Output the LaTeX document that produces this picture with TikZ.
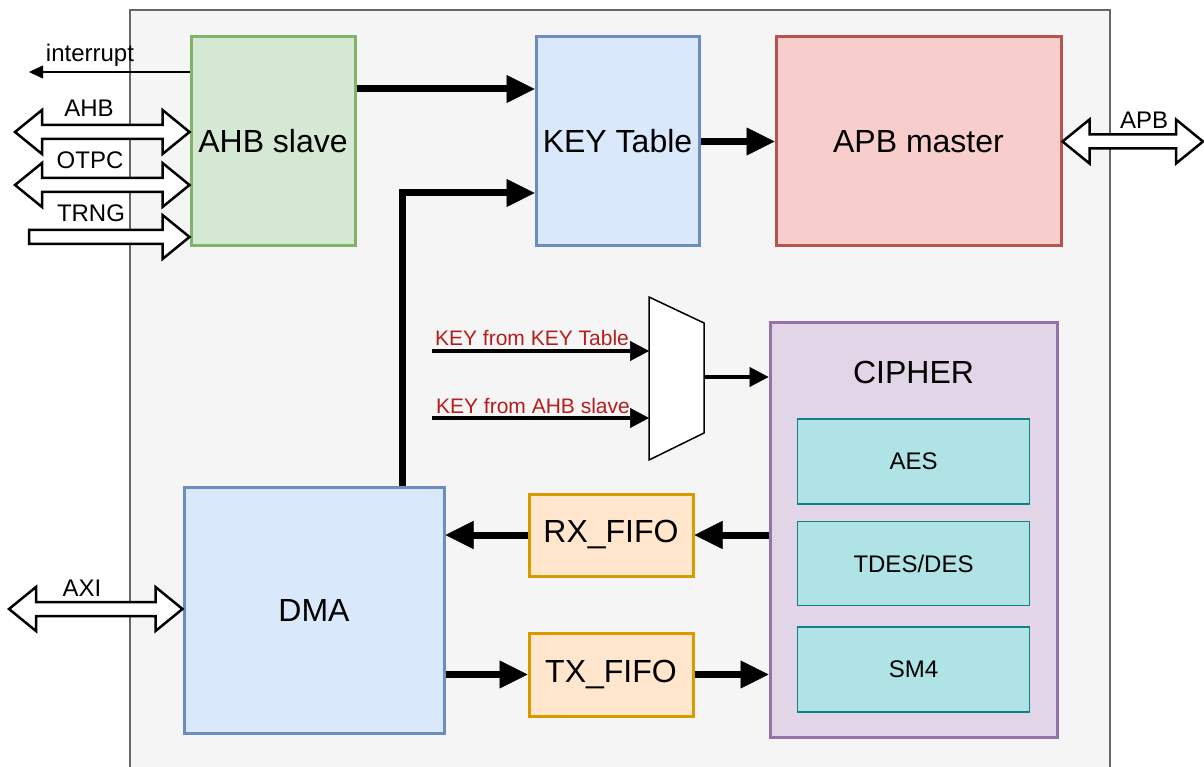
\documentclass[tikz,border=0pt]{standalone}
\usepackage{fontspec}
\setmainfont{Liberation Sans}
\usepackage{xcolor}
\usetikzlibrary{arrows.meta,positioning,calc}
\definecolor{outfill}{HTML}{F5F5F5}
\definecolor{outdraw}{HTML}{666666}
\definecolor{grnfill}{HTML}{D5E8D4}
\definecolor{grndraw}{HTML}{82B366}
\definecolor{blufill}{HTML}{DAE8FC}
\definecolor{bludraw}{HTML}{6C8EBF}
\definecolor{redfill}{HTML}{F8CECC}
\definecolor{reddraw}{HTML}{B85450}
\definecolor{purfill}{HTML}{E1D5E7}
\definecolor{purdraw}{HTML}{9673A6}
\definecolor{tealfill}{HTML}{B0E3E6}
\definecolor{tealdraw}{HTML}{0E8088}
\definecolor{orgfill}{HTML}{FFE6CC}
\definecolor{orgdraw}{HTML}{D79B00}
\definecolor{keyred}{HTML}{B41E1E}
\tikzset{
  blk/.style   = {rectangle, line width=3pt, align=center,
                  font=\fontsize{32}{38}\selectfont, inner sep=0pt},
  blkg/.style  = {blk, draw=grndraw, fill=grnfill},
  blkb/.style  = {blk, draw=bludraw, fill=blufill},
  blkr/.style  = {blk, draw=reddraw, fill=redfill},
  blkp/.style  = {blk, draw=purdraw, fill=purfill},
  blko/.style  = {blk, draw=orgdraw, fill=orgfill},
  blkt/.style  = {blk, line width=1.6pt, draw=tealdraw, fill=tealfill,
                  font=\fontsize{24}{28}\selectfont},
  fl/.style    = {-{Triangle[length=28pt,width=28pt,line width=0.5pt]}, line width=7pt},
  fls/.style   = {-{Triangle[length=19pt,width=20pt,line width=0.5pt]}, line width=4pt},
  fli/.style   = {-{Triangle[length=14pt,width=13pt,line width=0.5pt]}, line width=2.8pt},
  flx/.style   = {line width=2.5pt, draw=black, fill=white, line join=miter},
  lbl/.style   = {font=\fontsize{24}{28}\selectfont, inner sep=0pt},
  keylbl/.style= {font=\fontsize{21}{25}\selectfont, text=keyred, inner sep=0pt},
}
\newcommand{\flexdbl}[2]{%
  \draw[flx] let \p1=(#1), \p2=(#2) in
    (\x1,\y1) -- (\x1+27pt,\y1+22pt) -- (\x1+27pt,\y1+7pt) -- (\x2-27pt,\y1+7pt)
    -- (\x2-27pt,\y1+22pt) -- (\x2,\y1) -- (\x2-27pt,\y1-22pt) -- (\x2-27pt,\y1-7pt)
    -- (\x1+27pt,\y1-7pt) -- (\x1+27pt,\y1-22pt) -- cycle;}
\newcommand{\flexone}[2]{%
  \draw[flx] let \p1=(#1), \p2=(#2) in
    (\x1,\y1+7pt) -- (\x2-27pt,\y1+7pt) -- (\x2-27pt,\y1+22pt) -- (\x2,\y1)
    -- (\x2-27pt,\y1-22pt) -- (\x2-27pt,\y1-7pt) -- (\x1,\y1-7pt) -- cycle;}

\begin{document}
\begin{tikzpicture}[x=1pt, y=-1pt]

  \clip (0,0) rectangle (1204,767);
  \draw[line width=1.5pt, draw=outdraw, fill=outfill] (130,10) rectangle (1110,800);

  \node[blkg, minimum width=164pt, minimum height=209pt] (slave) at (273,141.5) {AHB slave};
  \node[blkb, minimum width=163pt, minimum height=209pt] (keytab) at (617.5,141.5) {KEY Table};
  \node[blkr, minimum width=285pt, minimum height=209pt] (master) at (918.5,141.5) {APB master};

  \node[blkp, minimum width=287pt, minimum height=415pt] (cipher) at (913.5,530) {};
  \node[font=\fontsize{32}{38}\selectfont, inner sep=0pt] (ciphlbl) at (913.5,372) {CIPHER};
  \node[blkt, minimum width=232pt, minimum height=85pt] (aes) at (913.5,461.5) {AES};
  \node[blkt, minimum width=232pt, minimum height=84pt, below=16pt of aes] (des) {TDES/DES};
  \node[blkt, minimum width=232pt, minimum height=85pt, below=20pt of des] (sm4) {SM4};

  \node[blkb, minimum width=260pt, minimum height=246pt] (dma) at (314,610) {DMA};
  \node[blko, minimum width=164pt, minimum height=82pt] (rx) at (611,535) {RX\_FIFO};
  \node[blko, minimum width=164pt, minimum height=83pt] (tx) at (611,674.5) {TX\_FIFO};

  \coordinate (mux-tl) at (649,297);
  \coordinate (mux-tr) at (704,323);
  \coordinate (mux-br) at (704,433);
  \coordinate (mux-bl) at (649,460);
  \draw[line width=1.5pt, fill=white, line join=miter] (mux-tl) -- (mux-tr) -- (mux-br) -- (mux-bl) -- cycle;
  \coordinate (muxout) at (704,377);

  \coordinate (kin1) at (432,351);
  \coordinate (kin2) at (432,418);
  \node[keylbl] (klbl1) at (532,338) {KEY from KEY Table};
  \node[keylbl] (klbl2) at (533,406) {KEY from AHB slave};

  \coordinate (intl) at (29,72);
  \coordinate (ahbl) at (15,132);
  \coordinate (otpl) at (15,185);
  \coordinate (trnl) at (29,237);
  \coordinate (axil) at (9,609);
  \coordinate (apbr) at (1203,142);
  \node[lbl] (intlbl) at (90,55) {interrupt};
  \node[lbl] (ahblbl) at (89,108) {AHB};
  \node[lbl] (otplbl) at (90,160) {OTPC};
  \node[lbl] (trnlbl) at (91,213) {TRNG};
  \node[lbl] (axilbl) at (82,588) {AXI};
  \node[lbl] (apblbl) at (1144,120) {APB};

  \draw[fli] (slave.west |- intl) -- (intl);
  \flexdbl{ahbl}{slave.west |- ahbl}
  \flexdbl{otpl}{slave.west |- otpl}
  \flexone{trnl}{slave.west |- trnl}
  \flexdbl{axil}{dma.west |- axil}
  \flexdbl{master.east}{apbr}

  \draw[fl] ([yshift=52.5pt]slave.east) -- ([yshift=52.5pt]keytab.west);
  \draw[fl] (keytab.east) -- (master.west);
  \draw[fl, line join=miter] ([xshift=88pt]dma.north) |- ([yshift=-51.5pt]keytab.west);
  \draw[fl] (cipher.west |- rx.east) -- (rx.east);
  \draw[fl] (rx.west) -- (rx.west -| dma.east);
  \draw[fl] (tx.west -| dma.east) -- (tx.west);
  \draw[fl] (tx.east) -- (tx.east -| cipher.west);

  \draw[fls] (kin1) -- (kin1 -| mux-tl);
  \draw[fls] (kin2) -- (kin2 -| mux-tl);
  \draw[fls] (muxout) -- (muxout -| cipher.west);

\end{tikzpicture}
\end{document}
